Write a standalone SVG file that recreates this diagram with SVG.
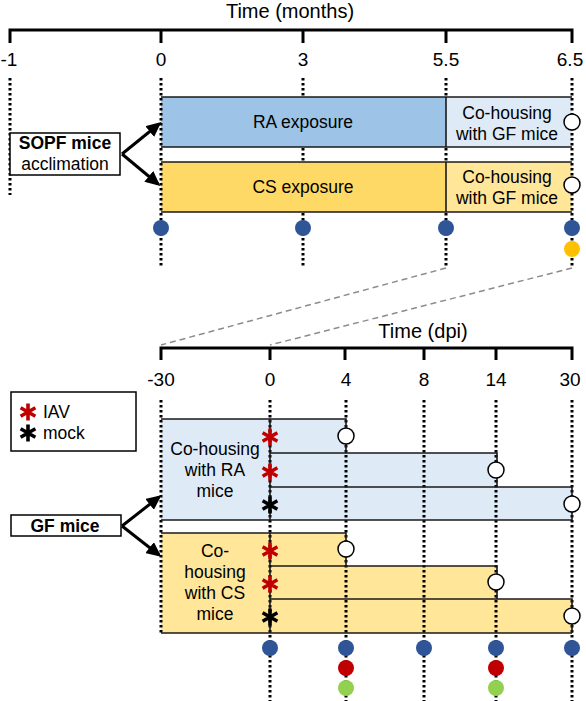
<svg xmlns="http://www.w3.org/2000/svg" width="586" height="701" viewBox="0 0 586 701">
<style>
text{font-family:"Liberation Sans",Arial,sans-serif;fill:#000}
.ttl{font-size:20px;text-anchor:middle}
.tk{font-size:19px;text-anchor:middle}
.lb{font-size:17.5px;text-anchor:middle}
.bd{font-size:17.5px;font-weight:bold;text-anchor:middle}
.ax{stroke:#000;stroke-width:3;fill:none}
.dot{stroke:#000;stroke-width:3;stroke-dasharray:2.5 2.5;fill:none}
.edge{stroke:#1a1a1a;stroke-width:1.6;fill:none}
.gd{stroke:#8c8c8c;stroke-width:1.5;stroke-dasharray:6 4;fill:none}
.arr{stroke:#000;stroke-width:3;fill:none;marker-end:url(#ah)}
.wc{fill:#fff;stroke:#000;stroke-width:1.5}
.blue{fill:#2F5597}.org{fill:#FFC000}.red{fill:#C00000}.grn{fill:#92D050}
.box{fill:#fff;stroke:#000;stroke-width:1.5}
</style>
<defs>
<marker id="ah" markerWidth="15" markerHeight="14" refX="12" refY="7" orient="auto" markerUnits="userSpaceOnUse" viewBox="0 0 15 14">
<path d="M0,0 L15,7 L0,14 z" fill="#000"/>
</marker>
<path id="star" d="M0,-8.5 V8.5 M-7.4,-4.25 L7.4,4.25 M-7.4,4.25 L7.4,-4.25" stroke-width="3.6" fill="none"/>
</defs>

<!-- top axis -->
<g id="axis-months">
<text class="ttl" x="290" y="18">Time (months)</text>
<path class="ax" d="M10,43 V30 H572 V43 M161,30 V43 M303,30 V43 M446,30 V43"/>
<text x="0.5" y="66" style="font-size:19px">-1</text>
<text class="tk" x="161" y="66">0</text>
<text class="tk" x="303" y="66">3</text>
<text class="tk" x="446" y="66">5.5</text>
<text class="tk" x="570" y="66">6.5</text>
</g>

<!-- top timelines under boxes -->
<g id="top-guides">
<path class="dot" d="M10,78 V195 M303,78 V268 M446,78 V268"/>
</g>

<g id="ra-exposure">
<rect x="161" y="97" width="285" height="50" fill="#9DC3E6"/>
<text class="lb" x="303" y="128">RA exposure</text>
</g>
<g id="ra-cohousing-gf">
<rect x="446" y="97" width="126" height="50" fill="#DEEBF7"/>
<text class="lb" x="507" y="119">Co-housing</text>
<text class="lb" x="507" y="140">with GF mice</text>
</g>
<g id="cs-exposure">
<rect x="161" y="162" width="285" height="50" fill="#FFD966"/>
<text class="lb" x="303" y="193">CS exposure</text>
</g>
<g id="cs-cohousing-gf">
<rect x="446" y="162" width="126" height="50" fill="#FFE699"/>
<text class="lb" x="507" y="183">Co-housing</text>
<text class="lb" x="507" y="204">with GF mice</text>
</g>
<path class="edge" d="M161,97 H572 M161,147 H572 M446,97 V147 M161,162 H572 M161,212 H572 M446,162 V212"/>
<path class="dot" d="M161,78 V268 M572,78 V268"/>

<g id="sopf">
<rect class="box" x="10" y="133" width="110" height="42"/>
<text class="bd" x="65" y="149">SOPF mice</text>
<text class="lb" x="65" y="170">acclimation</text>
</g>

<g id="top-markers">
<circle class="wc" cx="572" cy="122" r="8"/>
<circle class="wc" cx="572" cy="185" r="8"/>
<circle class="blue" cx="161" cy="228" r="8"/>
<circle class="blue" cx="303" cy="228" r="8"/>
<circle class="blue" cx="446" cy="228" r="8"/>
<circle class="blue" cx="572" cy="228" r="8"/>
<circle class="org" cx="572" cy="249" r="8"/>
</g>

<!-- bottom axis -->
<g id="axis-dpi">
<text class="ttl" x="423" y="338">Time (dpi)</text>
<path class="ax" d="M161,360 V348 H572 V360 M270,348 V360 M345,348 V360 M424,348 V360 M496,348 V360"/>
<text class="tk" x="161" y="386">-30</text>
<text class="tk" x="270" y="386">0</text>
<text class="tk" x="346" y="386">4</text>
<text class="tk" x="424" y="386">8</text>
<text class="tk" x="496" y="386">14</text>
<text class="tk" x="570" y="386">30</text>
</g>

<g id="legend">
<rect class="box" x="11" y="392" width="125" height="59"/>
<use href="#star" x="28" y="412" stroke="#C00000"/>
<text x="43" y="418" style="font-size:17.5px">IAV</text>
<use href="#star" x="28" y="433" stroke="#000"/>
<text x="43" y="439" style="font-size:17.5px">mock</text>
</g>

<g id="cohousing-ra">
<path d="M161,419 H346 V453 H497 V487 H572 V520 H161 Z" fill="#DEEBF7"/>
<text class="lb" x="215" y="455">Co-housing</text>
<text class="lb" x="215" y="476">with RA</text>
<text class="lb" x="215" y="497">mice</text>
</g>
<g id="cohousing-cs">
<path d="M161,533 H346 V566 H497 V599 H572 V633 H161 Z" fill="#FFE699"/>
<text class="lb" x="215" y="557">Co-</text>
<text class="lb" x="215" y="578">housing</text>
<text class="lb" x="215" y="599">with CS</text>
<text class="lb" x="215" y="620">mice</text>
</g>

<g id="bottom-guides">
<path class="dot" d="M161,400 V633 M270,400 V701 M346,400 V701 M424,400 V701 M496,400 V701 M572,400 V701"/>
</g>
<path class="edge" d="M161,419 H346 V453 M270,453 H497 V487 M270,487 H572 V520 M161,520 H572 M270,419 V520 M161,533 H346 V566 M270,566 H497 V599 M270,599 H572 V633 M161,633 H572 M270,533 V633"/>

<g id="gf">
<rect class="box" x="11" y="515" width="110" height="21"/>
<text class="bd" x="65" y="532">GF mice</text>
</g>

<g id="bottom-markers">
<circle class="wc" cx="346" cy="436" r="8"/>
<circle class="wc" cx="496" cy="470" r="8"/>
<circle class="wc" cx="572" cy="504" r="8"/>
<circle class="wc" cx="346" cy="549" r="8"/>
<circle class="wc" cx="496" cy="582" r="8"/>
<circle class="wc" cx="572" cy="616" r="8"/>
<use href="#star" x="270" y="437" stroke="#C00000"/>
<use href="#star" x="270" y="472" stroke="#C00000"/>
<use href="#star" x="270" y="505" stroke="#000"/>
<use href="#star" x="270" y="551" stroke="#C00000"/>
<use href="#star" x="270" y="584" stroke="#C00000"/>
<use href="#star" x="270" y="617" stroke="#000"/>
<circle class="blue" cx="270" cy="648" r="8"/>
<circle class="blue" cx="346" cy="648" r="8"/>
<circle class="blue" cx="424" cy="648" r="8"/>
<circle class="blue" cx="496" cy="648" r="8"/>
<circle class="blue" cx="572" cy="648" r="8"/>
<circle class="red" cx="346" cy="668" r="8"/>
<circle class="red" cx="496" cy="668" r="8"/>
<circle class="grn" cx="346" cy="688" r="8"/>
<circle class="grn" cx="496" cy="688" r="8"/>
</g>

<g id="connectors">
<path class="arr" d="M122,154 L159,124"/>
<path class="arr" d="M122,154 L158,184"/>
<path class="arr" d="M122,526 L159,497"/>
<path class="arr" d="M122,526 L159,555"/>
<path class="gd" d="M446,268 L161,345"/>
<path class="gd" d="M572,268 L270,345"/>
</g>
</svg>
